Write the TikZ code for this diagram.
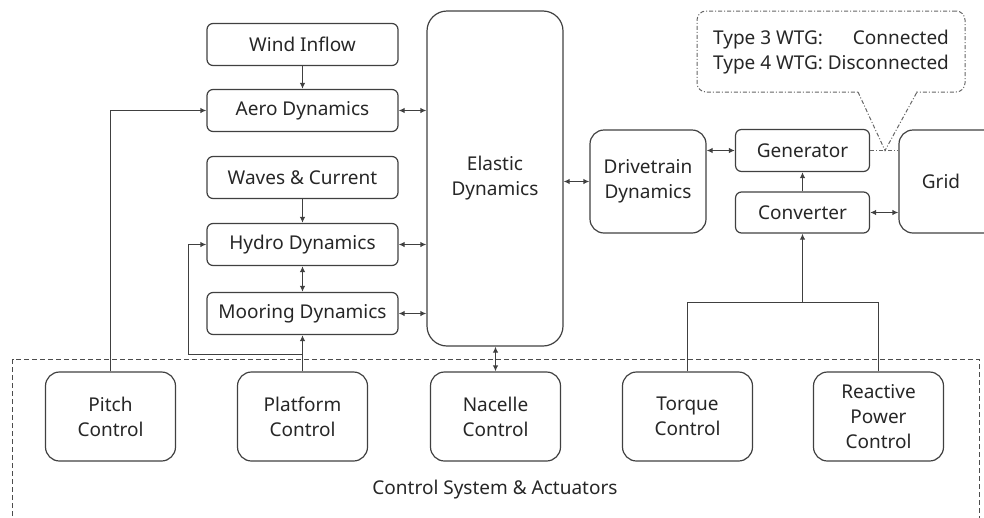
\documentclass[tikz,border=0pt]{standalone}
\usepackage{fontspec}
\setmainfont{Noto Sans}
\usetikzlibrary{arrows.meta}
\begin{document}
\begin{tikzpicture}[x=1pt,y=-1pt,
  every node/.style={font=\fontsize{19}{25}\selectfont, text=black!85},
  blk/.style={draw=black!75, line width=1.2pt, rounded corners=6pt, inner sep=0pt, align=center},
  small/.style={blk, minimum width=191pt, minimum height=42pt},
  ctrl/.style={blk, rounded corners=14pt, minimum width=130pt, minimum height=89pt},
  conn/.style={draw=black!75, line width=1.2pt},
  arr/.style={conn, -{Latex[length=6pt,width=5.5pt]}},
  darr/.style={conn, {Latex[length=6pt,width=5.5pt]}-{Latex[length=6pt,width=5.5pt]}},
  dashdot/.style={draw=black!60, line width=1pt, dash pattern=on 4pt off 2pt on 1pt off 2pt}
]
\useasboundingbox (0,0) rectangle (984,517);

% control system frame
\draw[black!70, line width=1pt, dash pattern=on 5pt off 3pt] (12.5,540) -- (12.5,359.5) -- (979.5,359.5) -- (979.5,540);
\node (ctrllabel) at (495,490) {Control System \& Actuators};

% upper blocks
\node[small] (wind) at (302.5,44.5) {Wind Inflow};
\node[small] (aero) at (302.5,110.5) {Aero Dynamics};
\node[small] (waves) at (302.5,177.5) {Waves \& Current};
\node[small] (hydro) at (302.5,244.5) {Hydro Dynamics};
\node[small] (moor) at (302.5,313.5) {Mooring Dynamics};
\node[blk, rounded corners=20pt, minimum width=136pt, minimum height=335pt] (elastic) at (495,178.5) {Elastic\\Dynamics};
\node[blk, rounded corners=14pt, minimum width=116pt, minimum height=103pt] (drive) at (648,181.5) {Drivetrain\\Dynamics};
\node[blk, minimum width=134pt, minimum height=42pt] (gen) at (802.5,150.5) {Generator};
\node[blk, minimum width=134pt, minimum height=41pt] (conv) at (802.5,212.5) {Converter};
\node[blk, rounded corners=14pt, minimum width=110pt, minimum height=103pt, text width=0pt] (grid) at (954,181.5) {};
\node (gridlabel) at (941,181.5) {Grid};

% control blocks
\node[ctrl] (pitch) at (110.5,416.5) {Pitch\\Control};
\node[ctrl] (plat) at (302.5,416.5) {Platform\\Control};
\node[ctrl] (nac) at (495.5,416.5) {Nacelle\\Control};
\node[ctrl] (torque) at (687.5,416.5) {Torque\\Control};
\node[ctrl] (react) at (878.5,416.5) {Reactive\\Power\\Control};

% callout
\node[dashdot, rounded corners=9pt, minimum width=268pt, minimum height=81pt, inner sep=0pt] (callout) at (831,51.5) {};
\node[inner sep=0pt] (callouttext) at (831,52) {\begin{tabular}{@{}l@{\ }r@{}}Type 3 WTG: & Connected\\Type 4 WTG: & Disconnected\end{tabular}};
\coordinate (tip) at (885,150.5);
\fill[white] (859,90) rectangle (916,94);
\draw[dashdot] (858,92) -- (tip) -- (917,92);
\draw[dashdot] (gen.east) -- (gen.east -| grid.west);

% connectors upper left
\draw[arr] (wind) -- (aero);
\draw[arr] (waves) -- (hydro);
\draw[darr] (hydro) -- (moor);
\draw[darr] (aero.east) -- (aero.east -| elastic.west);
\draw[darr] (hydro.east) -- (hydro.east -| elastic.west);
\draw[darr] (moor.east) -- (moor.east -| elastic.west);
\draw[darr] (elastic.south -| nac.north) -- (nac.north);
\draw[darr] (elastic.east |- drive.west) -- (drive.west);
\draw[darr] (drive.east |- gen.west) -- (gen.west);
\draw[arr] (conv) -- (gen);
\draw[darr] (conv.east) -- (conv.east -| grid.west);

% control connectors
\draw[arr] (pitch.north) -- (pitch.north |- aero.west) -- (aero.west);
\draw[arr] (plat.north) -- (moor.south);
\coordinate (pj) at (302.5,354.5);
\draw[arr] (pj) -- (188.5,354.5) -- (188.5,244.5) -- (hydro.west);
\coordinate (tj) at (802.5,302.5);
\draw[conn] (torque.north) -- (687.5,302.5) -- (878.5,302.5) -- (react.north);
\draw[arr] (tj) -- (conv.south);
\end{tikzpicture}
\end{document}
